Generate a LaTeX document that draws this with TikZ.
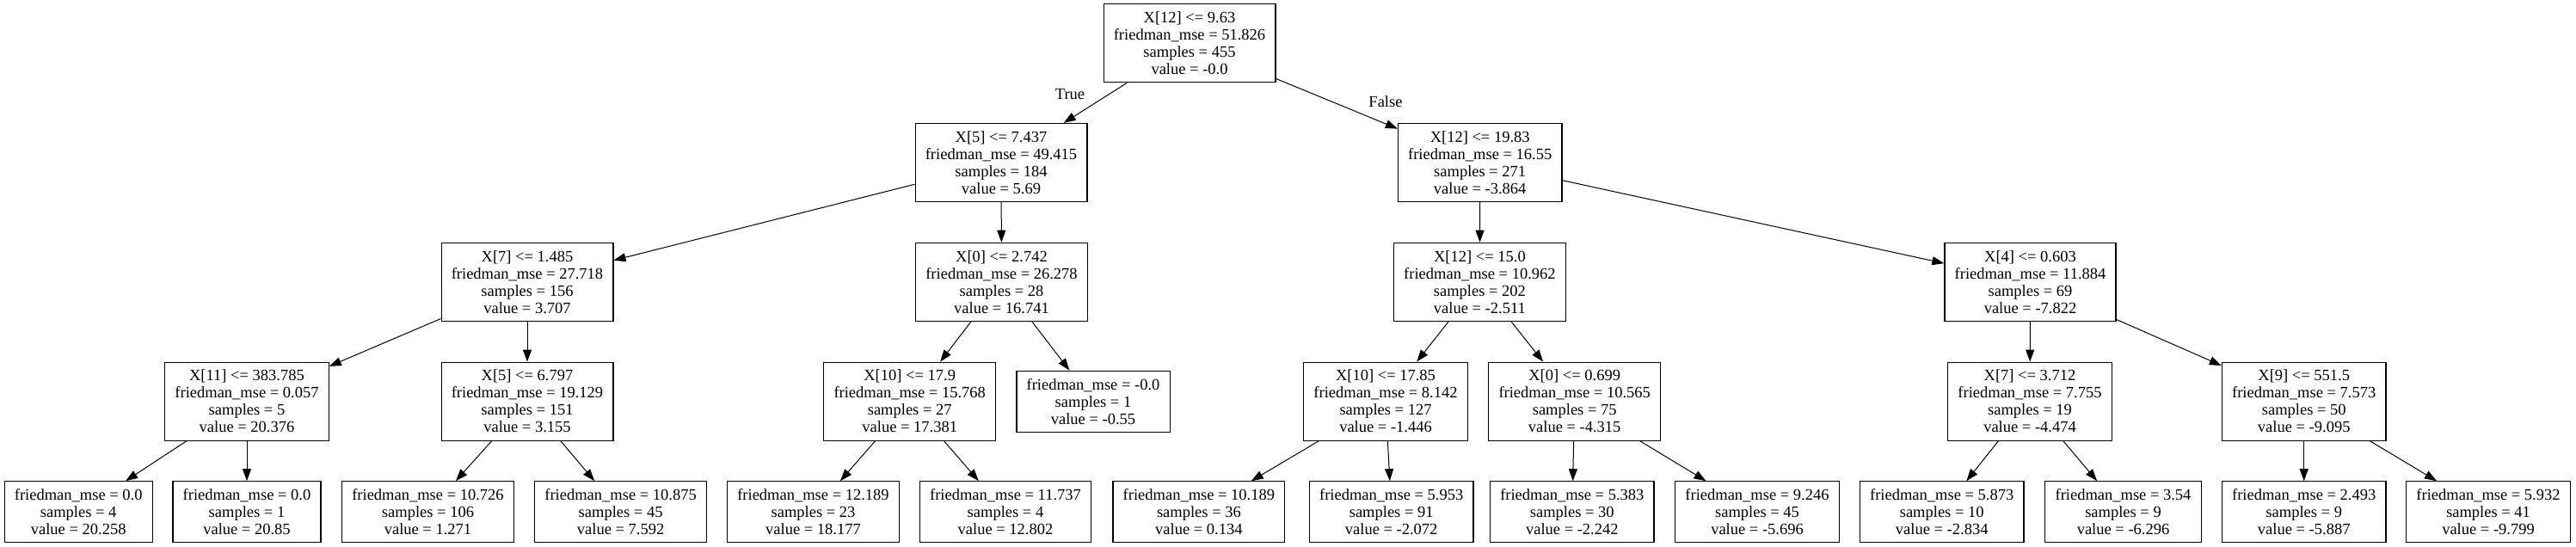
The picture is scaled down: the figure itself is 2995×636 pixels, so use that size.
\documentclass[tikz,border=0pt]{standalone}
\usepackage{fontspec}
\setmainfont{Liberation Serif}
\usetikzlibrary{arrows.meta}
\tikzset{
  tnode/.style={draw, line width=1.2pt, rectangle, align=center, inner xsep=11.7pt, inner ysep=0pt,
    font=\fontsize{18.5}{20}\selectfont},
  split/.style={tnode, minimum height=91pt},
  leaf/.style={tnode, minimum height=71pt},
  edge/.style={line width=1pt, -{Triangle[length=14pt,width=10pt]}},
  elabel/.style={font=\fontsize{18.5}{20}\selectfont, inner sep=0pt}
}
\newcommand{\lz}{-50.3}
\begin{document}
\begin{tikzpicture}[x=1pt,y=1pt]
\useasboundingbox (0,0) rectangle (2995,-636);
\def\la{-50.3}\def\lb{-189}\def\lc{-327.8}\def\ld{-466.7}\def\le{-595.3}
% level 0
\node[split] (root) at (1383,\la) {X[12] <= 9.63\\friedman\_mse = 51.826\\samples = 455\\value = -0.0};
% level 1
\node[split] (a) at (1164,\lb) {X[5] <= 7.437\\friedman\_mse = 49.415\\samples = 184\\value = 5.69};
\node[split] (b) at (1720.7,\lb) {X[12] <= 19.83\\friedman\_mse = 16.55\\samples = 271\\value = -3.864};
% level 2
\node[split] (aa) at (613,\lc) {X[7] <= 1.485\\friedman\_mse = 27.718\\samples = 156\\value = 3.707};
\node[split] (ab) at (1164.5,\lc) {X[0] <= 2.742\\friedman\_mse = 26.278\\samples = 28\\value = 16.741};
\node[split] (ba) at (1720.4,\lc) {X[12] <= 15.0\\friedman\_mse = 10.962\\samples = 202\\value = -2.511};
\node[split] (bb) at (2360.5,\lc) {X[4] <= 0.603\\friedman\_mse = 11.884\\samples = 69\\value = -7.822};
% level 3
\node[split] (aaa) at (287,\ld) {X[11] <= 383.785\\friedman\_mse = 0.057\\samples = 5\\value = 20.376};
\node[split] (aab) at (613,\ld) {X[5] <= 6.797\\friedman\_mse = 19.129\\samples = 151\\value = 3.155};
\node[split] (aba) at (1057.7,\ld) {X[10] <= 17.9\\friedman\_mse = 15.768\\samples = 27\\value = 17.381};
\node[leaf] (abb) at (1271,\ld) {friedman\_mse = -0.0\\samples = 1\\value = -0.55};
\node[split] (baa) at (1611,\ld) {X[10] <= 17.85\\friedman\_mse = 8.142\\samples = 127\\value = -1.446};
\node[split] (bab) at (1830.7,\ld) {X[0] <= 0.699\\friedman\_mse = 10.565\\samples = 75\\value = -4.315};
\node[split] (bba) at (2360,\ld) {X[7] <= 3.712\\friedman\_mse = 7.755\\samples = 19\\value = -4.474};
\node[split] (bbb) at (2678.7,\ld) {X[9] <= 551.5\\friedman\_mse = 7.573\\samples = 50\\value = -9.095};
% level 4
\node[leaf] (l1) at (91.2,\le) {friedman\_mse = 0.0\\samples = 4\\value = 20.258};
\node[leaf] (l2) at (287,\le) {friedman\_mse = 0.0\\samples = 1\\value = 20.85};
\node[leaf] (l3) at (497.5,\le) {friedman\_mse = 10.726\\samples = 106\\value = 1.271};
\node[leaf] (l4) at (721.6,\le) {friedman\_mse = 10.875\\samples = 45\\value = 7.592};
\node[leaf] (l5) at (945.5,\le) {friedman\_mse = 12.189\\samples = 23\\value = 18.177};
\node[leaf] (l6) at (1169,\le) {friedman\_mse = 11.737\\samples = 4\\value = 12.802};
\node[leaf] (l7) at (1393.9,\le) {friedman\_mse = 10.189\\samples = 36\\value = 0.134};
\node[leaf] (l8) at (1617.7,\le) {friedman\_mse = 5.953\\samples = 91\\value = -2.072};
\node[leaf] (l9) at (1827.8,\le) {friedman\_mse = 5.383\\samples = 30\\value = -2.242};
\node[leaf] (l10) at (2043,\le) {friedman\_mse = 9.246\\samples = 45\\value = -5.696};
\node[leaf] (l11) at (2257.7,\le) {friedman\_mse = 5.873\\samples = 10\\value = -2.834};
\node[leaf] (l12) at (2468.5,\le) {friedman\_mse = 3.54\\samples = 9\\value = -6.296};
\node[leaf] (l13) at (2678.7,\le) {friedman\_mse = 2.493\\samples = 9\\value = -5.887};
\node[leaf] (l14) at (2893,\le) {friedman\_mse = 5.932\\samples = 41\\value = -9.799};
% edges
\draw[edge] (root) -- (a);
\draw[edge] (root) -- (b);
\draw[edge] (a) -- (aa);
\draw[edge] (a) -- (ab);
\draw[edge] (b) -- (ba);
\draw[edge] (b) -- (bb);
\draw[edge] (aa) -- (aaa);
\draw[edge] (aa) -- (aab);
\draw[edge] (ab) -- (aba);
\draw[edge] (ab) -- (abb);
\draw[edge] (ba) -- (baa);
\draw[edge] (ba) -- (bab);
\draw[edge] (bb) -- (bba);
\draw[edge] (bb) -- (bbb);
\draw[edge] (aaa) -- (l1);
\draw[edge] (aaa) -- (l2);
\draw[edge] (aab) -- (l3);
\draw[edge] (aab) -- (l4);
\draw[edge] (aba) -- (l5);
\draw[edge] (aba) -- (l6);
\draw[edge] (baa) -- (l7);
\draw[edge] (baa) -- (l8);
\draw[edge] (bab) -- (l9);
\draw[edge] (bab) -- (l10);
\draw[edge] (bba) -- (l11);
\draw[edge] (bba) -- (l12);
\draw[edge] (bbb) -- (l13);
\draw[edge] (bbb) -- (l14);
% edge labels
\node[elabel] (tlab) at (1244,-110) {True};
\node[elabel] (flab) at (1611,-118) {False};
\end{tikzpicture}
\end{document}
